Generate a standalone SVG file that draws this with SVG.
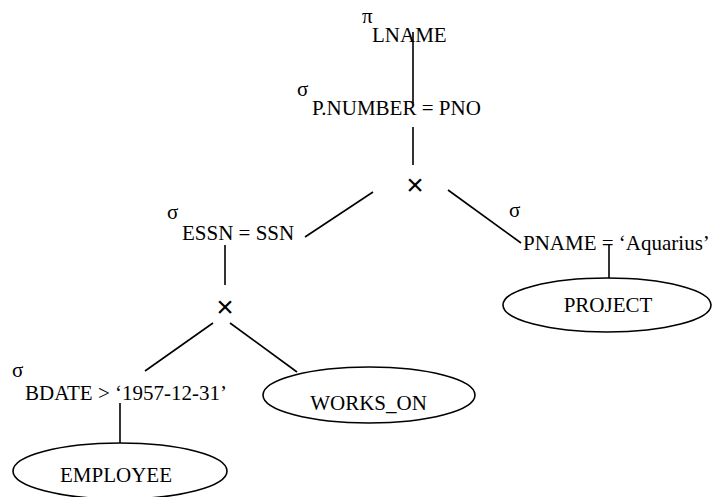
<svg xmlns="http://www.w3.org/2000/svg" width="712" height="497" viewBox="0 0 712 497">
  <style>
    text { font-family: "Liberation Serif", "Times New Roman", serif; font-size: 21px; fill: #000; }
    .op { font-family: "Liberation Sans", Arial, sans-serif; font-size: 30px; text-anchor: middle; }
    .mid { text-anchor: middle; }
    .edge { stroke: #000; stroke-width: 1.6; fill: none; stroke-linecap: butt; }
    .rel { stroke: #000; stroke-width: 1.6; fill: #fff; }
  </style>
  <rect width="712" height="497" fill="#fff"/>

  <!-- query tree edges -->
  <g id="connectors">
    <line class="edge" x1="413" y1="32" x2="413" y2="103"/>
    <line class="edge" x1="413" y1="127" x2="413" y2="165"/>
    <line class="edge" x1="373" y1="192" x2="305" y2="237"/>
    <line class="edge" x1="448" y1="190" x2="521" y2="243"/>
    <line class="edge" x1="225" y1="245" x2="225" y2="285"/>
    <line class="edge" x1="213" y1="323" x2="145" y2="371"/>
    <line class="edge" x1="230" y1="323" x2="297" y2="372"/>
    <line class="edge" x1="120" y1="403" x2="120" y2="443"/>
    <line class="edge" x1="609" y1="244" x2="609" y2="278"/>
  </g>

  <!-- projection on LNAME -->
  <g id="project-lname">
    <text x="362" y="23">π</text>
    <text x="372" y="42">LNAME</text>
  </g>

  <!-- selection P.NUMBER = PNO -->
  <g id="select-pnumber">
    <text x="297" y="96">σ</text>
    <text x="312" y="115">P.NUMBER = PNO</text>
  </g>

  <!-- upper cartesian product -->
  <g id="product-top">
    <text class="op" x="415" y="195">×</text>
  </g>

  <!-- selection ESSN = SSN -->
  <g id="select-essn">
    <text x="167" y="219">σ</text>
    <text x="182" y="240">ESSN = SSN</text>
  </g>

  <!-- lower cartesian product -->
  <g id="product-bottom">
    <text class="op" x="225" y="317">×</text>
  </g>

  <!-- selection on BDATE -->
  <g id="select-bdate">
    <text x="12" y="377">σ</text>
    <text x="25" y="400">BDATE &gt; ‘1957-12-31’</text>
  </g>

  <!-- selection on PNAME -->
  <g id="select-pname">
    <text x="509" y="217">σ</text>
    <text x="523" y="250">PNAME = ‘Aquarius’</text>
  </g>

  <!-- base relations -->
  <g id="employee">
    <ellipse class="rel" cx="120" cy="471" rx="107" ry="28"/>
    <text class="mid" x="116" y="482">EMPLOYEE</text>
  </g>
  <g id="works-on">
    <ellipse class="rel" cx="369" cy="395" rx="106" ry="28"/>
    <text class="mid" x="368.5" y="410">WORKS_ON</text>
  </g>
  <g id="project">
    <ellipse class="rel" cx="607" cy="305" rx="104" ry="27"/>
    <text class="mid" x="608" y="312">PROJECT</text>
  </g>
</svg>
